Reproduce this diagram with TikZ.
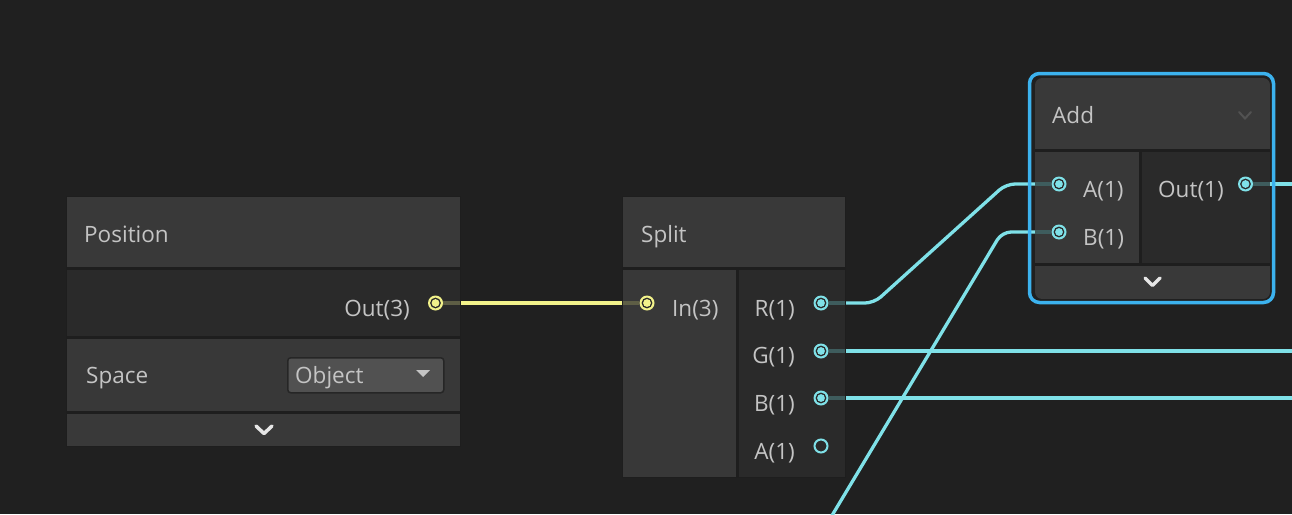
\documentclass[tikz,border=0pt]{standalone}
\usepackage{fontspec}
\setmainfont{Open Sans}
\definecolor{bg}{HTML}{202020}
\definecolor{hdr}{HTML}{393939}
\definecolor{darkp}{HTML}{2A2A2A}
\definecolor{lightp}{HTML}{383838}
\definecolor{sepc}{HTML}{1E1E1E}
\definecolor{txt}{HTML}{C4C4C4}
\definecolor{cy}{HTML}{7FE1E8}
\definecolor{cystub}{HTML}{3E5C5D}
\definecolor{yl}{HTML}{F2F28A}
\definecolor{ylstub}{HTML}{5E5E45}
\definecolor{sel}{HTML}{3CB2EE}
\definecolor{ddc}{HTML}{515151}
\definecolor{ddb}{HTML}{262626}
\definecolor{dimchev}{HTML}{525252}
\definecolor{chev}{HTML}{E6E6E6}
\begin{document}
\begin{tikzpicture}[x=1pt,y=-1pt,
  lbl/.style={text=txt, font=\fontsize{22.5}{27}\selectfont, inner sep=0pt},
  wire/.style={line width=3.3pt, #1},
  stub/.style={line width=3.3pt, #1},
  portc/.style={circle, inner sep=0pt, minimum size=15pt, fill=#1,
    path picture={\fill[darkp] (path picture bounding box.center) circle[radius=5.4pt];
                  \fill[#1] (path picture bounding box.center) circle[radius=3.9pt];}},
  porto/.style={circle, inner sep=0pt, minimum size=13pt, draw=#1, line width=2pt, fill=darkp},
  chevron/.style={chev, line width=3.5pt, line cap=round, line join=round},
]
\useasboundingbox (0,0) rectangle (1292,514);
\fill[bg] (0,0) rectangle (1292,514);

% ---- coordinates at node edges ----
\coordinate (posE) at (460,303);
\coordinate (splitW) at (623,303);
\coordinate (rE) at (845,303);
\coordinate (gE) at (845,351);
\coordinate (bE) at (845,398);
\coordinate (addAW) at (1035,184);
\coordinate (addBW) at (1035,232);
\coordinate (outE) at (1270,184);
\coordinate (gOff) at (1296,351);
\coordinate (bOff) at (1296,398);
\coordinate (outOff) at (1296,184);
\coordinate (bSrc) at (823.3,530);

% ---- wires ----
\draw[wire=yl] (posE) -- (splitW);
\draw[wire=cy, rounded corners=9pt] (rE) -- (874,303) -- (1006,184) -- (addAW);
\draw[wire=cy] (gE) -- (gOff);
\draw[wire=cy] (bE) -- (bOff);
\draw[wire=cy, rounded corners=9pt] (bSrc) -- (1002,232) -- (addBW);
\draw[wire=cy] (outE) -- (outOff);

% ---- Position node ----
\fill[sepc] (66,196) rectangle (461,447);
\fill[hdr] (67,197) rectangle (460,267);
\fill[darkp] (67,270) rectangle (460,336);
\fill[lightp] (67,339) rectangle (460,411);
\fill[hdr] (67,414) rectangle (460,446);
\node[lbl, anchor=base west] (posT) at (84,242) {Position};
\node[lbl, anchor=base east] (posOutL) at (410,316) {Out(3)};
\node[lbl, anchor=base west] (spaceL) at (86,383) {Space};
\node[draw=ddb, fill=ddc, line width=1.5pt, rounded corners=3pt,
      minimum width=156pt, minimum height=35pt, inner sep=0pt, anchor=north west] (dd) at (287,357) {};
\node[lbl, anchor=base west] (ddT) at (295,383) {Object};
\fill[txt] (416,370) -- (430,370) -- (423,377) -- cycle;
\draw[chevron] (256,426) -- (264,433.5) -- (272,426);

% ---- Split node ----
\fill[sepc] (622,196) rectangle (846,478);
\fill[hdr] (623,197) rectangle (845,267);
\fill[lightp] (623,270) rectangle (736,477);
\fill[darkp] (739,270) rectangle (845,477);
\node[lbl, anchor=base west] (splitT) at (641,242) {Split};
\node[lbl, anchor=base west] (inL) at (672,316) {In(3)};
\node[lbl, anchor=base east] (rL) at (795,316) {R(1)};
\node[lbl, anchor=base east] (gL) at (795,363) {G(1)};
\node[lbl, anchor=base east] (bL) at (795,411) {B(1)};
\node[lbl, anchor=base east] (aL) at (795,459) {A(1)};

% ---- Add node ----
\begin{scope}
  \clip[rounded corners=7pt] (1035,78) rectangle (1270,299);
  \fill[sepc] (1035,78) rectangle (1270,299);
  \fill[hdr] (1035,78) rectangle (1270,149);
  \fill[lightp] (1035,152) rectangle (1139,263);
  \fill[darkp] (1142,152) rectangle (1270,263);
  \fill[hdr] (1035,266) rectangle (1270,299);
\end{scope}
\draw[sel, line width=3.5pt, rounded corners=10pt] (1029.5,73.5) rectangle (1273.5,302.5);
\node[lbl, anchor=base west] (addT) at (1052,123) {Add};
\draw[dimchev, line width=2pt, line cap=round] (1239,112) -- (1245,118.5) -- (1251,112);
\node[lbl, anchor=base west] (aInL) at (1083,197) {A(1)};
\node[lbl, anchor=base west] (bInL) at (1083,245) {B(1)};
\node[lbl, anchor=base west] (outL) at (1158,197) {Out(1)};
\draw[chevron] (1145,278) -- (1152.5,285.5) -- (1160,278);

% ---- ports ----
\node[portc=yl] (posout) at (435.5,303) {};
\node[portc=yl] (splitin) at (647,303) {};
\node[portc=cy] (rout) at (821,303) {};
\node[portc=cy] (gout) at (821,351) {};
\node[portc=cy] (bout) at (821,398) {};
\node[porto=cy] (aout) at (821,446) {};
\node[portc=cy] (addA) at (1059,184) {};
\node[portc=cy] (addB) at (1059,232) {};
\node[portc=cy] (addOut) at (1245.5,184) {};

% ---- port stubs ----
\draw[stub=ylstub] (posout) -- (posE);
\draw[stub=ylstub] (splitW) -- (splitin);
\draw[stub=cystub] (rout) -- (rE);
\draw[stub=cystub] (gout) -- (gE);
\draw[stub=cystub] (bout) -- (bE);
\draw[stub=cystub] (addAW) -- (addA);
\draw[stub=cystub] (addBW) -- (addB);
\draw[stub=cystub] (addOut) -- (outE);
\end{tikzpicture}
\end{document}
